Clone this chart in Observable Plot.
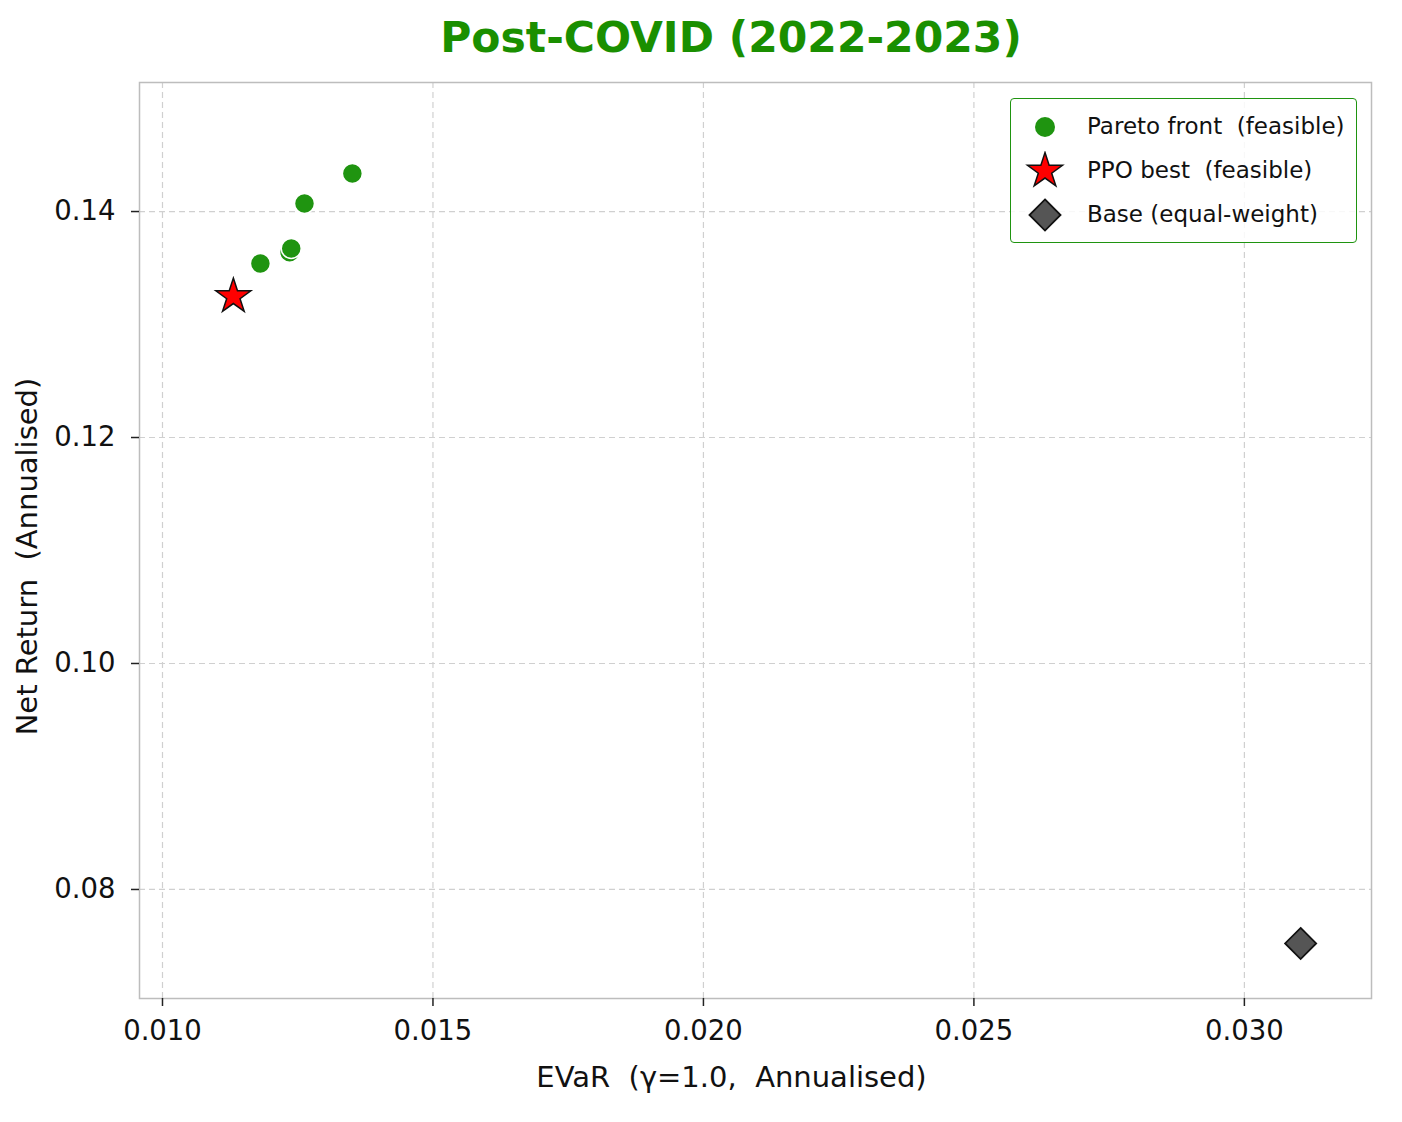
<!DOCTYPE html>
<html>
<head>
<meta charset="utf-8">
<script src="https://cdn.jsdelivr.net/npm/d3@7"></script>
<script src="https://cdn.jsdelivr.net/npm/@observablehq/plot@0.6"></script>
<style>
  body { margin: 0; background: #fff; font-family: "DejaVu Sans", sans-serif; }
  #wrap { position: relative; width: 1402px; height: 1122px; }
  #title { position: absolute; left: 0; top: 0; width: 1402px; height: 70px; }
  #title div { position: absolute; left: 731px; top: 13px; transform: translateX(-50%); white-space: nowrap;
    font: bold 42.5px "DejaVu Sans", sans-serif; color: #1a8f00; }
  #chart { position: absolute; left: 0; top: 70px; }
  #legend { position: absolute; left: 1010px; top: 98px; width: 345px; height: 143px;
    border: 1.5px solid #1f9410; border-radius: 4px; background: rgba(255,255,255,0.85); }
  .entry { position: absolute; left: 0; height: 40px; width: 340px; }
  .entry svg { position: absolute; left: 14px; top: 0; }
  .entry span { position: absolute; left: 76px; top: 6px; font: 23px "DejaVu Sans", sans-serif; color: #111; white-space: pre; }
</style>
</head>
<body>
<div id="wrap">
  <div id="title"><div>Post-COVID (2022-2023)</div></div>
  <div id="chart"></div>
  <div id="legend"></div>
</div>
<script>
// ---- data ----
const paretoX = [0.01235, 0.01181, 0.01238, 0.012625, 0.01351];
const paretoY = [0.1364, 0.1354, 0.13673, 0.14071, 0.14336];
const ppoX = [0.01131];
const ppoY = [0.13248];
const baseX = [0.03104];
const baseY = [0.07522];
const xTicks = [0.010, 0.015, 0.020, 0.025, 0.030];
const yTicks = [0.08, 0.10, 0.12, 0.14];
const xLabel = "EVaR  (γ=1.0,  Annualised)";
const yLabel = "Net Return  (Annualised)";
const legendLabels = ["Pareto front  (feasible)", "PPO best  (feasible)", "Base (equal-weight)"];

const green = "#1f9410";
const pareto = paretoX.map((x, i) => ({x, y: paretoY[i]}));
const ppo = ppoX.map((x, i) => ({x, y: ppoY[i]}));
const base = baseX.map((x, i) => ({x, y: baseY[i]}));

const plot = Plot.plot({
  width: 1402,
  height: 1052,
  marginTop: 12,
  marginLeft: 139,
  marginRight: 31,
  marginBottom: 124,
  style: {fontFamily: "DejaVu Sans, sans-serif", fontSize: "27px", color: "#111", background: "#fff"},
  x: {domain: [0.009575, 0.03235]},
  y: {domain: [0.07035, 0.15142]},
  marks: [
    Plot.gridX(xTicks, {stroke: "#d0d0d0", strokeOpacity: 1, strokeDasharray: "6,4", strokeWidth: 1.2}),
    Plot.gridY(yTicks, {stroke: "#d0d0d0", strokeOpacity: 1, strokeDasharray: "6,4", strokeWidth: 1.2}),
    Plot.frame({stroke: "#bdbdbd", strokeWidth: 1.5}),
    Plot.axisX(xTicks, {tickSize: 8, tickPadding: 14, tickFormat: d3.format(".3f"), stroke: "#222", strokeWidth: 1.5, label: null}),
    Plot.axisY(yTicks, {tickSize: 8, tickPadding: 16, tickFormat: d3.format(".2f"), stroke: "#222", strokeWidth: 1.5, label: null}),
    Plot.text([xLabel], {text: d => d, frameAnchor: "bottom", textAnchor: "middle", dx: -24, dy: 88, fontSize: 29, fill: "#111"}),
    Plot.text([yLabel], {text: d => d, frameAnchor: "left", textAnchor: "middle", lineAnchor: "middle", rotate: -90, dx: -112, dy: 16, fontSize: 29, fill: "#111"}),
    Plot.dot(pareto, {x: "x", y: "y", r: 10, fill: green, stroke: "white", strokeWidth: 1.5}),
    Plot.dot(ppo, {x: "x", y: "y", r: 11, symbol: "star", fill: "#ff0000", stroke: "#111", strokeWidth: 1.5}),
    Plot.dot(base, {x: "x", y: "y", r: 14, symbol: "diamond2", fill: "#555555", stroke: "#111", strokeWidth: 1.8})
  ]
});
plot.querySelectorAll('[aria-label="x-axis tick label"], [aria-label="y-axis tick label"]').forEach(g => g.setAttribute("font-size", "27.5"));
document.getElementById("chart").appendChild(plot);

// ---- legend ----
const legend = document.getElementById("legend");
const syms = [
  {type: d3.symbolCircle, r: 10, fill: green, stroke: "none", sw: 0},
  {type: d3.symbolStar, r: 11, fill: "#ff0000", stroke: "#111", sw: 1.5},
  {type: d3.symbolDiamond2, r: 14, fill: "#555555", stroke: "#111", sw: 1.8}
];
legendLabels.forEach((lab, i) => {
  const e = document.createElement("div");
  e.className = "entry";
  e.style.top = (8 + i * 44) + "px";
  const s = syms[i];
  const path = d3.symbol(s.type, s.r * s.r * Math.PI)();
  e.innerHTML = `<svg width="40" height="40"><path transform="translate(20,20)" d="${path}" fill="${s.fill}" stroke="${s.stroke}" stroke-width="${s.sw}"/></svg><span>${lab}</span>`;
  legend.appendChild(e);
});
</script>
</body>
</html>
